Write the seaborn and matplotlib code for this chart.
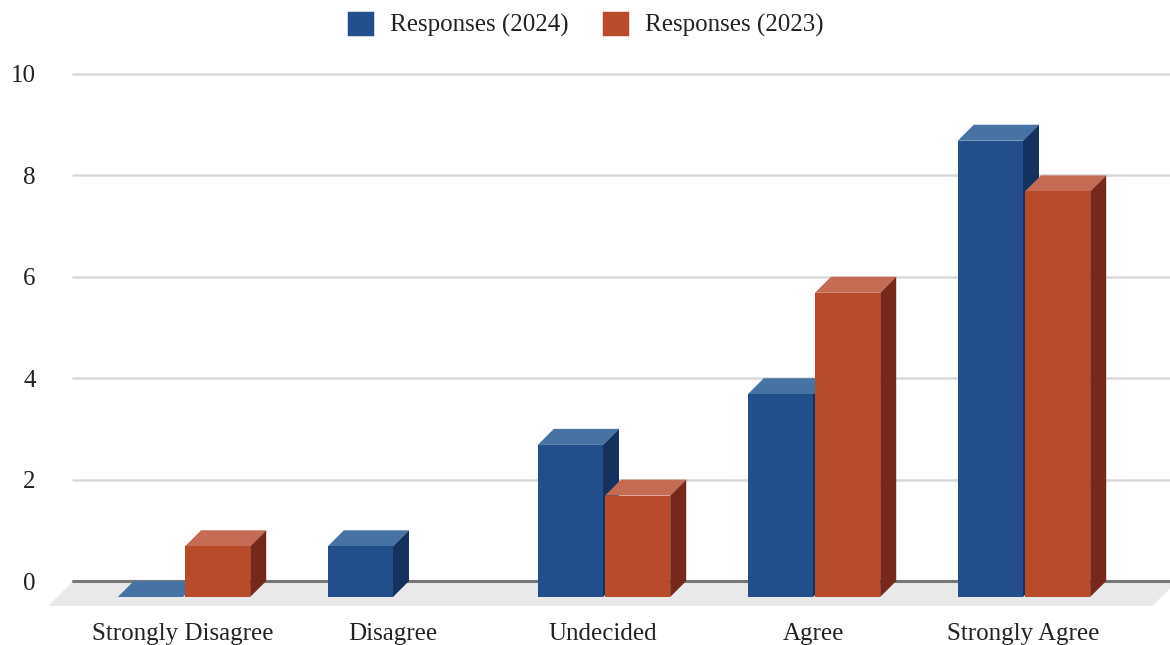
import numpy as np
import pandas as pd
import seaborn as sns
import matplotlib
matplotlib.use("Agg")
import matplotlib.pyplot as plt
from matplotlib.patches import Patch, Polygon
from matplotlib.transforms import Affine2D

categories = ["Strongly Disagree", "Disagree", "Undecided", "Agree", "Strongly Agree"]
responses_2024 = [0, 1, 3, 4, 9]
responses_2023 = [1, np.nan, 2, 6, 8]
series_names = ["Responses (2024)", "Responses (2023)"]
front_colors = ["#224E8C", "#B84B2A"]
top_colors = ["#4673A3", "#C66B53"]
side_colors = ["#15325E", "#76291B"]

W, H = 1170, 645
sns.set_theme(style="white")
plt.rcParams["font.family"] = ["Liberation Serif", "DejaVu Serif"]
FS = 18
TXT = "#222222"

df = pd.DataFrame({
    "category": categories * 2,
    "value": responses_2024 + responses_2023,
    "series": [series_names[0]] * 5 + [series_names[1]] * 5,
})

fig = plt.figure(figsize=(W / 100, H / 100), dpi=100, facecolor="white")
left, right, top, bottom = 73, 1170, 74, 581
ax = fig.add_axes([left / W, 1 - bottom / H, (right - left) / W, (bottom - top) / H])
ax.patch.set_alpha(0)

sns.barplot(data=df, x="category", y="value", hue="series", order=categories,
            hue_order=series_names, palette=front_colors, saturation=1, width=0.64, gap=0.03,
            dodge=True, legend=False, errorbar=None, linewidth=0, ax=ax)

step = 210.0
ax.set_xlim((left - 200) / step, (right - 200) / step)
ax.set_ylim(0, 10)
dx = 16 / step
dy = 16 / ((bottom - top) / 10)

# floor of the 3-D box
floor = [(left, bottom), (1178, bottom), (1152, 606), (48, 606)]
fig.add_artist(Polygon([(x / W, 1 - y / H) for x, y in floor], closed=True,
                       transform=fig.transFigure, facecolor="#E9E9E9",
                       edgecolor="none", zorder=0))

# grid and baseline
ax.set_yticks([0, 2, 4, 6, 8, 10])
ax.yaxis.grid(True, color="#D9D9D9", lw=1.8)
ax.xaxis.grid(False)
ax.set_axisbelow(True)
ax.axhline(0, color="#777777", lw=2.2, zorder=1.5, clip_on=False)
for s in ax.spines.values():
    s.set_visible(False)
for gl in ax.get_ygridlines():
    gl.set_clip_on(False)

# extrude every bar seaborn has drawn
for k, (container, side_c, top_c) in enumerate(zip(ax.containers, side_colors, top_colors)):
    z = 3 + k
    for bar in container:
        h = bar.get_height()
        if not np.isfinite(h):
            continue
        x0 = bar.get_x()
        w = bar.get_width()
        bar.set_x(x0 - dx)
        bar.set_y(-dy)
        bar.set_clip_on(False)
        bar.set_zorder(z + 0.5)
        fx0, fx1 = x0 - dx, x0 - dx + w
        fy0, fy1 = -dy, h - dy
        ax.add_patch(Polygon([(fx0, fy1), (fx1, fy1), (x0 + w, h), (x0, h)], closed=True,
                             facecolor=top_c, edgecolor="none", zorder=z, clip_on=False))
        if h > 0:
            ax.add_patch(Polygon([(fx1, fy0), (x0 + w, 0), (x0 + w, h), (fx1, fy1)], closed=True,
                                 facecolor=side_c, edgecolor="none", zorder=z, clip_on=False))

# tick labels
ax.set_xlabel("")
ax.set_ylabel("")
ax.tick_params(axis="y", length=0, pad=27, labelsize=FS, labelcolor=TXT)
ax.tick_params(axis="x", length=0, pad=30.5, labelsize=FS, labelcolor=TXT)
ax.set_xticks(range(len(categories)))
ax.set_xticklabels(categories)
shift = Affine2D().translate(-17, 0)
for lab in ax.get_xticklabels():
    lab.set_transform(lab.get_transform() + shift)

# legend
handles = [Patch(facecolor=c, edgecolor=c, linewidth=2.5, joinstyle="round") for c in front_colors]
fig.legend(handles, series_names, loc="center", bbox_to_anchor=(586.5 / W, 1 - 25 / H),
           ncol=2, frameon=False, fontsize=FS, labelcolor=TXT,
           handlelength=0.92, handleheight=0.92, handletextpad=0.72, columnspacing=1.4)

fig.savefig("out.png", dpi=100, facecolor="white")
